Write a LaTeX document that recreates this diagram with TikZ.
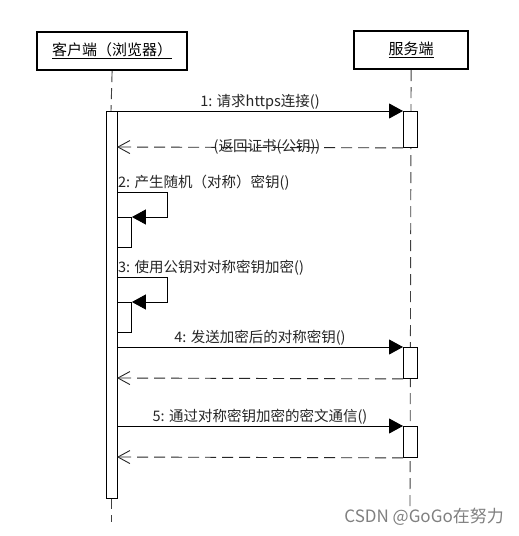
\documentclass[tikz,border=0pt]{standalone}
\usepackage{fontspec}
\newfontfamily\cjk{Noto Sans CJK SC}
\setmainfont{Noto Sans CJK SC}
\usetikzlibrary{arrows.meta}
\begin{document}
\begin{tikzpicture}[x=1pt,y=-1pt,
  head/.style={draw=black,line width=2.2pt,fill=white,inner sep=0pt,font=\fontsize{15}{17}\selectfont},
  actbox/.style={draw=black,line width=0.9pt,fill=white,inner sep=0pt,anchor=north west},
  life/.style={draw=black!75,line width=0.9pt,dash pattern=on 11pt off 6pt},
  msg/.style={draw=black,line width=0.9pt,-{Triangle[length=14pt,width=15pt]}},
  ret/.style={draw=black!85,line width=0.9pt,dash pattern=on 11pt off 6pt,-{Straight Barb[length=12pt,width=13pt,line width=0.9pt]}},
  lbl/.style={font=\fontsize{14.5}{16}\selectfont,inner sep=0pt,text=black!85}]
\useasboundingbox (0,0) rectangle (519,536);
\fill[white] (0,0) rectangle (519,536);
% headers
\node[head,minimum width=150pt,minimum height=38pt,anchor=north west] (client) at (36,31) {\underline{客户端（浏览器）}};
\node[head,minimum width=114pt,minimum height=38pt,anchor=north west] (server) at (353,30) {\underline{服务端}};
% lifelines
\coordinate (cend) at (111,522);
\coordinate (send) at (410,507);
\draw[life] (client.south) -- (111,111);
\draw[life] (111,498) -- (cend);
\draw[life] (server.south) -- (send);
% client activation
\node[actbox,minimum width=11pt,minimum height=387pt] (ca) at (106,111) {};
% server activations
\node[actbox,minimum width=14pt,minimum height=36pt] (sa1) at (403,111) {};
\node[actbox,minimum width=14pt,minimum height=31pt] (sa4) at (403,347) {};
\node[actbox,minimum width=14pt,minimum height=31pt] (sa5) at (403,426) {};
% nested activations
\node[actbox,minimum width=14pt,minimum height=30pt] (n2) at (117,217) {};
\node[actbox,minimum width=14pt,minimum height=30pt] (n3) at (117,302) {};
% message 1
\draw[msg] (117,111) -- (sa1.north west);
\node[lbl] (l1) at (260,102) {1: 请求https连接()};
\node[lbl] (l1r) at (267,147) {(返回证书(公钥))};
\draw[ret] (sa1.south west) -- (117,147);
% self call 2
\node[lbl,anchor=west] (l2) at (118,183) {2: 产生随机（对称）密钥()};
\draw[msg] (117,192) -- (167,192) -- (167,217) -- (n2.north east);
% self call 3
\node[lbl,anchor=west] (l3) at (118,268) {3: 使用公钥对对称密钥加密()};
\draw[msg] (117,277) -- (167,277) -- (167,302) -- (n3.north east);
% message 4
\node[lbl] (l4) at (260,338) {4: 发送加密后的对称密钥()};
\draw[msg] (117,347) -- (sa4.north west);
\draw[ret] (sa4.south west) -- (117,378);
% message 5
\node[lbl] (l5) at (260,417) {5: 通过对称密钥加密的密文通信()};
\draw[msg] (117,426) -- (sa5.north west);
\draw[ret] (sa5.south west) -- (117,457);
% watermark
\node[font=\fontsize{17}{19}\selectfont,text=black!50,anchor=east,inner sep=0pt] (wm) at (504,517) {CSDN @GoGo在努力};
\end{tikzpicture}
\end{document}
